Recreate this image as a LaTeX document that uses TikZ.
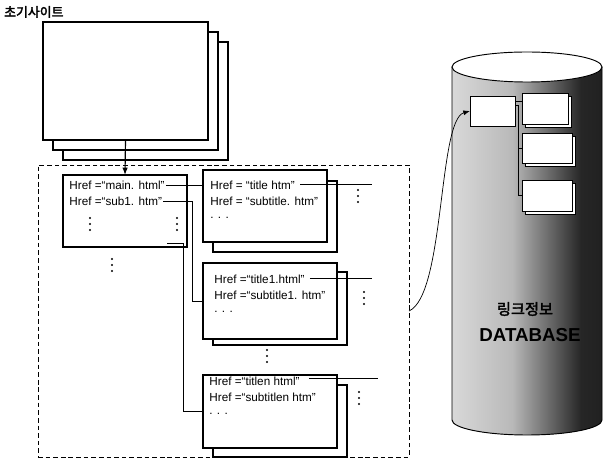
\documentclass[tikz,border=0pt]{standalone}
\usepackage{fontspec}
\setmainfont{Liberation Sans}
\newfontfamily\kfont{Noto Sans CJK KR}[AutoFakeBold=2.5]
\usetikzlibrary{arrows.meta,calc}
\pgfdeclarehorizontalshading{dbshade}{100bp}{color(0bp)=(gray!70); color(25bp)=(gray!30); color(45bp)=(gray!55); color(68bp)=(black!85); color(100bp)=(black!95)}

\begin{document}
\begin{tikzpicture}[x=0.03cm, y=-0.03cm,
  page/.style={draw, line width=1.2pt, fill=white, minimum width=4.95cm, minimum height=3.54cm, inner sep=0pt, outer sep=0pt},
  linkbox/.style={draw, line width=0.9pt, fill=white, inner sep=0pt, outer sep=0pt},
  href/.style={anchor=west, inner sep=1pt, font=\fontsize{10}{12}\selectfont},
  dbbox/.style={draw, line width=0.8pt, fill=white, inner sep=0pt, outer sep=0pt}]
  \useasboundingbox (0,0) rectangle (603,461);

  % starting site
  \node[anchor=west, inner sep=0pt, font=\kfont\bfseries\fontsize{11}{13}\selectfont] (start) at (4,12) {초기사이트};
  \node[page] (page2) at (145.5,101) {};
  \node[page] (page1) at (135.5,91) {};
  \node[page] (page0) at (125.5,81) {};

  % link pages
  \node[draw, dash pattern=on 4pt off 2.5pt, thick, minimum width=11.13cm, minimum height=8.76cm, inner sep=0pt, outer sep=0pt] (frame) at (223.5,311) {};
  \node[linkbox, minimum width=3.72cm, minimum height=2.16cm] (main) at (125,211) {};
  \node[href] (m1) at (68,185) {Href =“main. html”};
  \node[href] (m2) at (68,201) {Href =“sub1. htm”};

  \node[linkbox, minimum width=3.72cm, minimum height=2.13cm] (t0s) at (275,216.5) {};
  \node[linkbox, minimum width=3.72cm, minimum height=2.16cm] (t0) at (265,206) {};
  \node[href] (t0a) at (209,185) {Href = “title htm”};
  \node[href] (t0b) at (209,201) {Href = “subtitle. htm”};
  \node[href] (t0c) at (209,218) {. . .};

  \node[linkbox, minimum width=4.02cm, minimum height=2.19cm] (t1s) at (280,308.5) {};
  \node[linkbox, minimum width=4.02cm, minimum height=2.28cm] (t1) at (270,301) {};
  \node[href] (t1a) at (213,279) {Href =“title1.html”};
  \node[href] (t1b) at (213,295) {Href =“subtitle1. htm”};
  \node[href] (t1c) at (213,312) {. . .};

  \node[linkbox, minimum width=4.02cm, minimum height=2.16cm] (tns) at (280,421) {};
  \node[linkbox, minimum width=4.02cm, minimum height=2.19cm] (tn) at (270,411.5) {};
  \node[href] (tna) at (208,381) {Href =“titlen html”};
  \node[href] (tnb) at (208,397) {Href =“subtitlen htm”};
  \node[href] (tnc) at (208,414) {. . .};

  % vertical dots
  \foreach \x/\y in {90/224, 177/224, 112/265, 358/196, 364/298, 267/356, 359/398}
    \foreach \d in {-6,0,6}
      \fill (\x,\y+\d) circle (0.9pt);

  \coordinate (t0out) at (372,184);
  \coordinate (t1out) at (372,278);
  \coordinate (tnout) at (378,378);

  \draw[line width=1pt, -{Latex[length=2.2mm]}] (page0.south) -- (main.north);
  \draw[thick] (m1.east) -- (m1.east -| t0.west);
  \draw[semithick] (m2.east) -| ($(t1.west)+(-11,0)$) -- (t1.west);
  \draw[semithick] ($(main.south east)+(-20,-4)$) -| ($(tn.west)+(-20,0)$) -- (tn.west);
  \draw[thick] ($(t0a.east)+(4,-1)$) -- (t0out);
  \draw[thick] ($(t1a.east)+(4,-1)$) -- (t1out);
  \draw[thick] ($(tna.east)+(8,-3)$) -- (tnout);

  % link database
  \fill[shading=dbshade] (452,67) -- (452,420) arc[start angle=180, end angle=360, x radius=2.25cm, y radius=0.45cm] -- (602,67) -- cycle;
  \draw[thick] (452,67) -- (452,420) arc[start angle=180, end angle=360, x radius=2.25cm, y radius=0.45cm] -- (602,67);
  \draw[thick, fill=white] (527,67) ellipse[x radius=2.25cm, y radius=0.45cm];

  \node[dbbox, minimum width=1.35cm, minimum height=0.9cm] (dbkey) at (492.5,111) {};
  \node[dbbox, minimum width=1.38cm, minimum height=0.93cm] (dbAs) at (548,111.5) {};
  \node[dbbox, minimum width=1.38cm, minimum height=0.93cm] (dbA) at (545,108.5) {};
  \node[dbbox, minimum width=1.5cm, minimum height=0.9cm] (dbBs) at (550,151) {};
  \node[dbbox, minimum width=1.5cm, minimum height=0.9cm] (dbB) at (547,148) {};
  \node[dbbox, minimum width=1.5cm, minimum height=0.93cm] (dbCs) at (550,198.5) {};
  \node[dbbox, minimum width=1.5cm, minimum height=0.93cm] (dbC) at (547,195.5) {};
  \coordinate (k1) at ($(dbkey.north east)+(0,5)$);
  \coordinate (k2) at ($(dbkey.north east)+(0,9)$);
  \draw (k1) -- (k1 -| dbA.west);
  \draw (k2) -- ++(3,0) |- (dbB.west);
  \draw (k2) -- ++(3,0) |- (dbC.west);

  \node[font=\kfont\bfseries\fontsize{13}{15}\selectfont] (dbname) at (525,309) {링크정보};
  \node[font=\bfseries\fontsize{16}{18}\selectfont] (dbword) at (530,335) {DATABASE};

  \draw[semithick, -{Latex[length=2mm]}] (frame.east) .. controls (445,295) and (438,120) .. (dbkey.west);
\end{tikzpicture}
\end{document}
